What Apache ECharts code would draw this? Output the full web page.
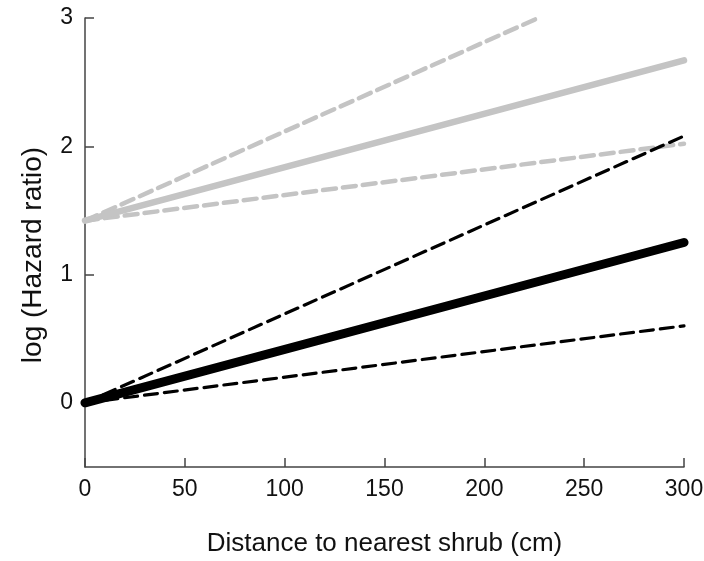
<!DOCTYPE html>
<html>
<head>
<meta charset="utf-8">
<script src="https://cdn.jsdelivr.net/npm/echarts@6/dist/echarts.min.js"></script>
<style>html,body{margin:0;padding:0;background:#fff}#c{width:704px;height:561px}</style>
</head>
<body>
<div id="c"></div>
<script>
// Distance (cm) and log hazard ratio values
const blackSolid = [[0, 0.0], [300, 1.25]];
const blackUpper = [[0, 0.0], [300, 2.08]];
const blackLower = [[0, 0.0], [300, 0.60]];
const greySolid  = [[0, 1.42], [300, 2.67]];
const greyUpper  = [[0, 1.42], [227, 3.0]];
const greyLower  = [[0, 1.42], [300, 2.02]];
const xTicks = [0, 50, 100, 150, 200, 250, 300];
const yTicks = [0, 1, 2, 3];
const xTitle = 'Distance to nearest shrub (cm)';
const yTitle = 'log (Hazard ratio)';

const chart = echarts.init(document.getElementById('c'));
const font = 'Liberation Sans, Arial, sans-serif';
function line(data, color, width, dashed) {
  return {
    type: 'line', data: data, symbol: 'none', animation: false,
    lineStyle: { color: color, width: width, type: dashed ? [13, 7] : 'solid', cap: 'round' },
    z: dashed ? 2 : 3
  };
}
chart.setOption({
  backgroundColor: '#fff',
  grid: { left: 85, right: 20, top: 18, bottom: 94, containLabel: false, outerBoundsMode: 'none' },
  graphic: [{
    type: 'text', x: 33, y: 255, rotation: Math.PI / 2,
    style: { text: yTitle, font: '28px ' + font, fill: '#111', align: 'center', verticalAlign: 'middle' }
  }],
  xAxis: {
    type: 'value', min: 0, max: 300, interval: 50,
    name: xTitle, nameLocation: 'middle', nameGap: 64,
    nameTextStyle: { fontFamily: font, fontSize: 26, color: '#111' },
    axisLine: { show: true, onZero: false, lineStyle: { color: '#444', width: 1.5 } },
    axisTick: { show: true, inside: true, length: 9, lineStyle: { color: '#444', width: 1.5 }, customValues: xTicks },
    axisLabel: { fontFamily: font, fontSize: 23, color: '#111', margin: 11, customValues: xTicks },
    splitLine: { show: false }
  },
  yAxis: {
    type: 'value', min: -0.5, max: 3, interval: 0.5,
    axisLine: { show: true, onZero: false, lineStyle: { color: '#444', width: 1.5 } },
    axisTick: { show: true, inside: true, length: 9, lineStyle: { color: '#444', width: 1.5 }, customValues: yTicks },
    axisLabel: { fontFamily: font, fontSize: 23, color: '#111', margin: 12, customValues: yTicks },
    splitLine: { show: false }
  },
  series: [
    line(greyUpper, '#c4c4c4', 4.5, true),
    line(greyLower, '#c4c4c4', 4.5, true),
    line(greySolid, '#c4c4c4', 6.5, false),
    line(blackUpper, '#000', 3.2, true),
    line(blackLower, '#000', 3.2, true),
    line(blackSolid, '#000', 9, false)
  ]
});
</script>
</body>
</html>
